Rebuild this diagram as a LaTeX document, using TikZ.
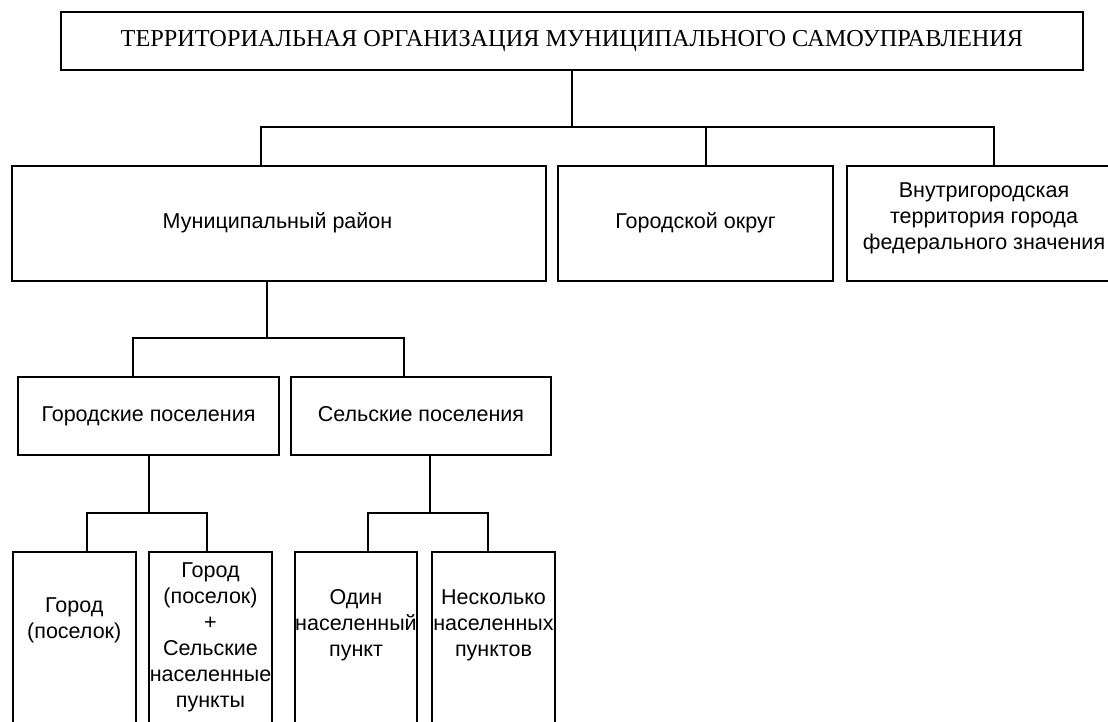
\documentclass[tikz,border=0pt]{standalone}
\usepackage{fontspec}
\setmainfont{Liberation Serif}
\newfontfamily\arfont{Liberation Sans}
\begin{document}
\begin{tikzpicture}[x=1pt,y=-1pt,
  box/.style={draw, line width=2pt, inner sep=0pt},
  lab/.style={font=\arfont\fontsize{21.5}{26}\selectfont, align=center, inner sep=0pt},
  one/.style={text height=15.5pt, text depth=4.5pt},
  conn/.style={line width=2pt}]
\useasboundingbox (0,0) rectangle (1108,722);
\clip (0,0) rectangle (1108,722);
% level 0
\node[box, minimum width=1022, minimum height=58, font=\fontsize{24.3}{28}\selectfont] (top) at (572,41)
  {ТЕРРИТОРИАЛЬНАЯ ОРГАНИЗАЦИЯ МУНИЦИПАЛЬНОГО САМОУПРАВЛЕНИЯ};
% level 1
\node[box, minimum width=534, minimum height=115] (mr) at (279,223.5) {};
\node[lab, one] (mrt) at (277.5,223) {Муниципальный район};
\node[box, lab, one, minimum width=275, minimum height=115] (go) at (695.5,223.5) {Городской округ};
\node[box, minimum width=283, minimum height=115] (vt) at (988.5,223.5) {};
\node[lab] (vtt) at (984,218) {Внутригородская\\территория города\\федерального значения};
% level 2
\node[box, lab, one, minimum width=261, minimum height=78] (gp) at (148.5,416) {Городские поселения};
\node[box, lab, one, minimum width=260, minimum height=78] (sp) at (421,416) {Сельские поселения};
% level 3
\node[box, minimum width=123.5, minimum height=218] (b1) at (74.25,661) {};
\node[box, minimum width=123, minimum height=218] (b2) at (210.5,661) {};
\node[box, minimum width=122, minimum height=218] (b3) at (356,661) {};
\node[box, minimum width=123, minimum height=218] (b4) at (493.5,661) {};
\node[lab] (t1) at (74.25,620) {Город\\(поселок)};
\node[lab] (t2) at (210.5,637) {Город\\(поселок)\\+\\Сельские\\населенные\\пункты};
\node[lab] (t3) at (356,625) {Один\\населенный\\пункт};
\node[lab] (t4) at (493.5,625) {Несколько\\населенных\\пунктов};
% connectors level 0 -> 1
\coordinate (j0) at (572,127);
\coordinate (c1) at (261,127);
\coordinate (c2) at (706,127);
\coordinate (c3) at (994,127);
\draw[conn] (top.south -| j0) -- (j0);
\draw[conn] (c1 |- mr.north) -- (c1) -- (c3) -- (c3 |- vt.north);
\draw[conn] (c2) -- (c2 |- go.north);
% level 1 -> 2
\coordinate (k0) at (267,338);
\coordinate (k1) at (133,338);
\coordinate (k2) at (404,338);
\draw[conn] (mr.south -| k0) -- (k0);
\draw[conn] (k1 |- gp.north) -- (k1) -- (k2) -- (k2 |- sp.north);
% level 2 -> 3
\coordinate (m0) at (149,513);
\coordinate (m1) at (87,513);
\coordinate (m2) at (207,513);
\draw[conn] (gp.south -| m0) -- (m0);
\draw[conn] (m1 |- b1.north) -- (m1) -- (m2) -- (m2 |- b2.north);
\coordinate (n0) at (430,513);
\coordinate (n1) at (368,513);
\coordinate (n2) at (488,513);
\draw[conn] (sp.south -| n0) -- (n0);
\draw[conn] (n1 |- b3.north) -- (n1) -- (n2) -- (n2 |- b4.north);
\end{tikzpicture}
\end{document}
